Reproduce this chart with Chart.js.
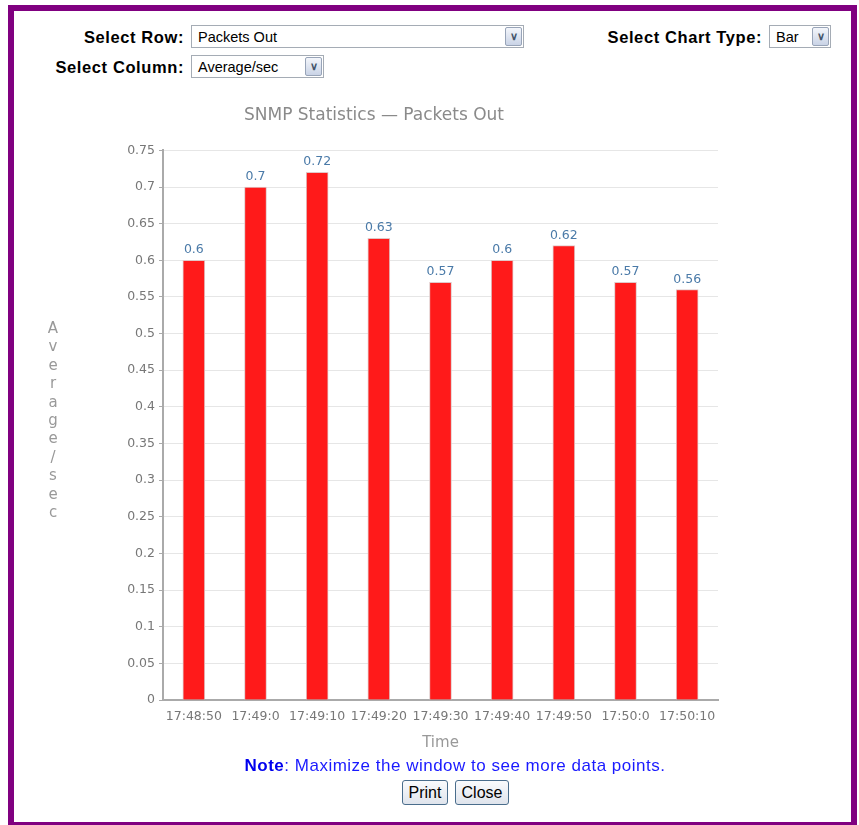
<!DOCTYPE html>
<html>
<head>
<meta charset="utf-8">
<script src="https://cdn.jsdelivr.net/npm/chart.js@4.4.0/dist/chart.umd.min.js"></script>
<style>
  body { margin: 0; background: #fff; font-family: Arial, "Liberation Sans", sans-serif; }
  #marco {
    position: absolute; left: 8px; top: 5px; width: 837px; height: 811px;
    border: 6px solid #800080; background: #fff;
  }
  .etiqueta { position: absolute; font-weight: bold; font-size: 16.5px; letter-spacing: 0.6px; color: #000; text-align: right; }
  .combo {
    position: absolute; height: 23px; border: 1px solid #a5acb5; background: #fff;
    font-size: 14.5px; line-height: 23px; padding-left: 6px; box-sizing: border-box; color: #000;
  }
  .combo .flecha {
    position: absolute; right: 1px; top: 1px; width: 17px; height: 19px;
    border: 1px solid #98a4b8; border-radius: 2px; box-sizing: border-box;
    background: linear-gradient(#f4f6fb, #c9d3e6); color: #44546a;
    font-size: 11px; line-height: 17px; text-align: center; font-weight: bold;
  }
  #lienzo { position: absolute; left: 30px; top: 95px; width: 710px; height: 665px; }
  #nota { position: absolute; left: 0; width: 910px; top: 756px; text-align: center; font-size: 17px; letter-spacing: 0.5px; color: #1a1aff; }
  #nota b { color: #0000ee; }
  .boton {
    position: absolute; top: 780px; height: 25px; border: 1px solid #4a6d8c; border-radius: 3px;
    background: linear-gradient(#fafbfd, #dfe4ec); font-size: 16px; line-height: 23px;
    text-align: center; box-sizing: border-box; color: #000;
  }
</style>
</head>
<body>
<div id="marco"></div>

<div class="etiqueta" style="left:20px; top:28px; width:164px;">Select Row:</div>
<div class="combo" style="left:191px; top:25px; width:333px;">Packets Out<div class="flecha">&#8744;</div></div>
<div class="etiqueta" style="left:540px; top:28px; width:222px;">Select Chart Type:</div>
<div class="combo" style="left:769px; top:25px; width:62px;">Bar<div class="flecha">&#8744;</div></div>
<div class="etiqueta" style="left:20px; top:58px; width:164px;">Select Column:</div>
<div class="combo" style="left:191px; top:55px; width:133px;">Average/sec<div class="flecha">&#8744;</div></div>

<div id="lienzo"><canvas id="grafico"></canvas></div>

<div id="nota"><b>Note</b>: Maximize the window to see more data points.</div>
<div class="boton" style="left:402px; width:46px;">Print</div>
<div class="boton" style="left:455px; width:54px;">Close</div>

<script>
// Datos del grafico
const horas = ["17:48:50", "17:49:0", "17:49:10", "17:49:20", "17:49:30", "17:49:40", "17:49:50", "17:50:0", "17:50:10"];
const promedioSeg = [0.6, 0.7, 0.72, 0.63, 0.57, 0.6, 0.62, 0.57, 0.56];
const titulo = "SNMP Statistics \u2014 Packets Out";
const tituloY = "Average/sec";
const tituloX = "Time";

const fuente = "'DejaVu Sans', sans-serif";

// Etiquetas de valor encima de cada barra
const etiquetasValor = {
    id: "etiquetasValor",
    afterDatasetsDraw(chart) {
        const ctx = chart.ctx;
        const meta = chart.getDatasetMeta(0);
        ctx.save();
        ctx.font = "12.5px " + fuente;
        ctx.fillStyle = "#4a7aa8";
        ctx.textAlign = "center";
        ctx.textBaseline = "bottom";
        meta.data.forEach((barra, i) => {
            ctx.fillText(String(promedioSeg[i]), barra.x, barra.y - 4);
        });
        ctx.restore();
    }
};

// Titulo del eje Y con letras apiladas
const tituloVertical = {
    id: "tituloVertical",
    afterDraw(chart) {
        const ctx = chart.ctx;
        const area = chart.chartArea;
        const letras = tituloY.split("");
        const paso = 18.4;
        const centro = (area.top + area.bottom) / 2 - 4;
        let y = centro - (letras.length - 1) * paso / 2;
        ctx.save();
        ctx.font = "15px " + fuente;
        ctx.fillStyle = "#999";
        ctx.textAlign = "center";
        ctx.textBaseline = "middle";
        letras.forEach(l => {
            ctx.fillText(l, 23, y);
            y += paso;
        });
        ctx.restore();
    }
};

const ctx = document.getElementById("grafico").getContext("2d");
const miGrafico = new Chart(ctx, {
    type: "bar",
    data: {
        labels: horas,
        datasets: [{
            label: "Average/sec",
            data: promedioSeg,
            backgroundColor: "#ff1a1a",
            borderColor: "#e0c8c8",
            borderWidth: 1,
            barThickness: 22
        }]
    },
    options: {
        responsive: true,
        maintainAspectRatio: false,
        animation: false,
        layout: { padding: { left: 0, right: 22, top: 0, bottom: 8 } },
        plugins: {
            legend: { display: false },
            tooltip: { enabled: false },
            title: {
                display: true,
                text: titulo,
                color: "#8a8a8a",
                font: { family: fuente, size: 17, weight: "normal" },
                padding: { top: 10, bottom: 25 }
            }
        },
        scales: {
            y: {
                min: 0,
                max: 0.75,
                ticks: {
                    stepSize: 0.05,
                    color: "#777",
                    font: { family: fuente, size: 12.5 },
                    padding: 4,
                    callback: v => String(Number(v.toFixed(2)))
                },
                grid: { color: "#e6e6e6", tickLength: 4, tickColor: "#aaa" },
                border: { color: "#aaa", width: 2 },
                afterFit(scale) { scale.width = 133; }
            },
            x: {
                ticks: {
                    color: "#777",
                    font: { family: fuente, size: 12.5 },
                    maxRotation: 0,
                    autoSkip: false,
                    padding: 1
                },
                grid: { display: false },
                border: { color: "#aaa", width: 2 },
                title: {
                    display: true,
                    text: tituloX,
                    color: "#999",
                    font: { family: fuente, size: 15 },
                    padding: { top: 10, bottom: 0 }
                },
                afterFit(scale) { scale.height = 52; }
            }
        }
    },
    plugins: [etiquetasValor, tituloVertical]
});
</script>
</body>
</html>
